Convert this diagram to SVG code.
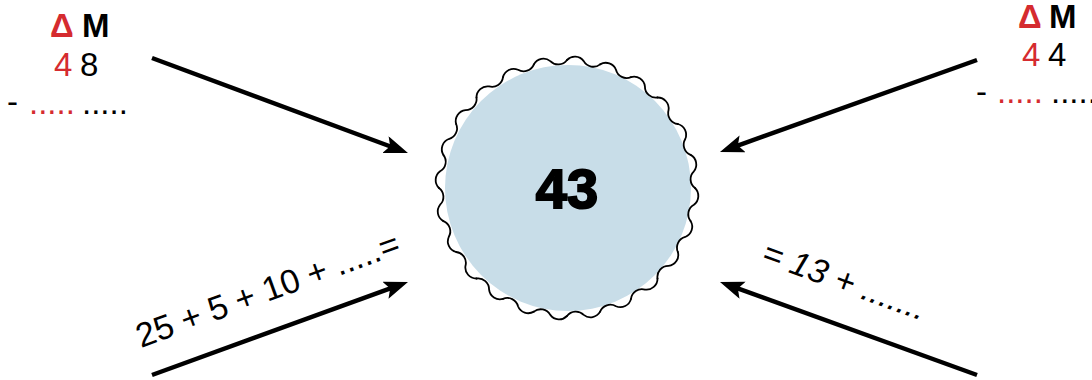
<svg xmlns="http://www.w3.org/2000/svg" xmlns:xlink="http://www.w3.org/1999/xlink" width="1092" height="380" viewBox="0 0 1092 380">
<style>
.t{font-family:"Liberation Sans",Arial,sans-serif;font-size:33px;fill:#000}
.b{font-weight:bold}
.r{fill:#d52b2f}
.ln{stroke:#000;stroke-width:4.5;fill:none;marker-end:url(#ah)}
</style>
<defs>
<marker id="ah" markerUnits="userSpaceOnUse" markerWidth="26" markerHeight="20" refX="14" refY="9" orient="auto">
<polygon points="0,0 24,9 0,18 5,9" fill="#000"/>
</marker>
<path id="wv" d="M128,0 A11,11 0 0 1 126.904,16.707 A11,11 0 0 0 123.638,33.129" fill="none" stroke="#000" stroke-width="1.8" stroke-linecap="round"/>
</defs>
<rect width="1092" height="380" fill="#fff"/>
<g id="connectors">
<line class="ln" x1="152" y1="58" x2="398.6" y2="149.5"/>
<line class="ln" x1="977" y1="60" x2="729.4" y2="148.6"/>
<line class="ln" x1="152" y1="375" x2="398.6" y2="285.4"/>
<line class="ln" x1="977" y1="375" x2="729.4" y2="285.4"/>
</g>
<g id="center">
<circle cx="568" cy="188" r="123" fill="#c8dde8"/>
<g transform="translate(567,188)">
<use xlink:href="#wv"/><use xlink:href="#wv" transform="rotate(15)"/><use xlink:href="#wv" transform="rotate(30)"/><use xlink:href="#wv" transform="rotate(45)"/>
<use xlink:href="#wv" transform="rotate(60)"/><use xlink:href="#wv" transform="rotate(75)"/><use xlink:href="#wv" transform="rotate(90)"/><use xlink:href="#wv" transform="rotate(105)"/>
<use xlink:href="#wv" transform="rotate(120)"/><use xlink:href="#wv" transform="rotate(135)"/><use xlink:href="#wv" transform="rotate(150)"/><use xlink:href="#wv" transform="rotate(165)"/>
<use xlink:href="#wv" transform="rotate(180)"/><use xlink:href="#wv" transform="rotate(195)"/><use xlink:href="#wv" transform="rotate(210)"/><use xlink:href="#wv" transform="rotate(225)"/>
<use xlink:href="#wv" transform="rotate(240)"/><use xlink:href="#wv" transform="rotate(255)"/><use xlink:href="#wv" transform="rotate(270)"/><use xlink:href="#wv" transform="rotate(285)"/>
<use xlink:href="#wv" transform="rotate(300)"/><use xlink:href="#wv" transform="rotate(315)"/><use xlink:href="#wv" transform="rotate(330)"/><use xlink:href="#wv" transform="rotate(345)"/>
</g>
<text class="t b" x="567" y="208" text-anchor="middle" stroke="#000" stroke-width="2" style="font-size:56px">43</text>
</g>
<g id="left-table">
<text class="t b r" x="50" y="37">Δ</text>
<text class="t b" x="82" y="37">M</text>
<text class="t r" x="54" y="76">4</text>
<text class="t" x="80" y="76">8</text>
<text class="t" x="7" y="113">-</text>
<text class="t r" x="29" y="114">.....</text>
<text class="t" x="82" y="114">.....</text>
</g>
<g id="right-table">
<text class="t b r" x="1018" y="28">Δ</text>
<text class="t b" x="1049" y="28">M</text>
<text class="t r" x="1022" y="66">4</text>
<text class="t" x="1048" y="66">4</text>
<text class="t" x="976" y="103">-</text>
<text class="t r" x="997" y="103">.....</text>
<text class="t" x="1051" y="103">.....</text>
</g>
<g id="label-left">
<text class="t" style="font-size:34px" transform="translate(141,348) rotate(-20)">25 + 5 + 10 + .....=</text>
</g>
<g id="label-right">
<text class="t" font-style="italic" style="font-size:34px" transform="translate(760,262) rotate(20)">= 13 + .......</text>
</g>
</svg>
